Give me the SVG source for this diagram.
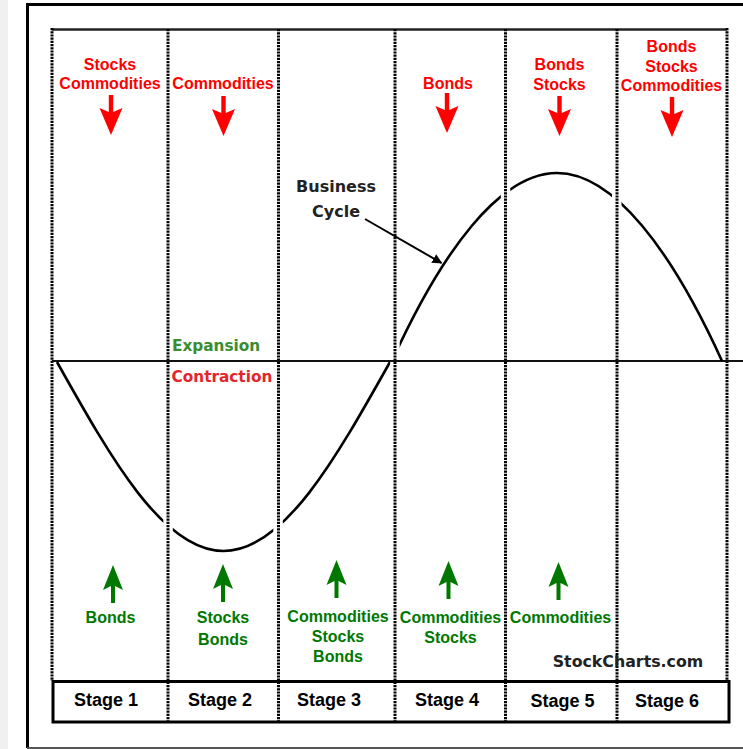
<svg xmlns="http://www.w3.org/2000/svg" width="743" height="749" viewBox="0 0 743 749">
<defs>
<style>
.red{font-family:"Liberation Sans",Arial,sans-serif;font-weight:bold;font-size:16px;fill:#ff0000;text-anchor:middle}
.grn{font-family:"Liberation Sans",Arial,sans-serif;font-weight:bold;font-size:16px;fill:#007800;text-anchor:middle}
.stage{font-family:"Liberation Sans",Arial,sans-serif;font-weight:bold;font-size:18px;fill:#000;text-anchor:middle}
.dv{font-family:"DejaVu Sans",Verdana,sans-serif;font-weight:bold}
.dot{stroke:#000;stroke-width:3;stroke-dasharray:2.2 1;fill:none}
.curve{stroke:#000;stroke-width:2.6;fill:none}
</style>
<path id="dnArrow" d="M-2.2,0 H2.2 V17 L11.5,13 L0,40 L-11.5,13 L-2.2,17 Z" fill="#ff0000"/>
<path id="upArrow" d="M0,0 L10,25 L2,21 V38 H-2 V21 L-10,25 Z" fill="#007800"/>
<marker id="ah" markerWidth="10" markerHeight="10" refX="9" refY="5" orient="auto" markerUnits="userSpaceOnUse" viewBox="0 0 10 10">
<path d="M0,0 L10,5 L0,10 Z" fill="#000"/>
</marker>
<mask id="gaps" maskUnits="userSpaceOnUse" x="0" y="0" width="743" height="749">
<rect x="0" y="0" width="743" height="749" fill="#fff"/>
<rect x="163.3" y="0" width="9.5" height="749" fill="#000"/>
<rect x="273.3" y="0" width="9.5" height="749" fill="#000"/>
<rect x="390.2" y="0" width="9.5" height="749" fill="#000"/>
<rect x="500.8" y="0" width="9.5" height="749" fill="#000"/>
<rect x="612" y="0" width="9.5" height="749" fill="#000"/>
</mask>
</defs>
<rect x="0" y="0" width="743" height="749" fill="#fff"/>
<rect x="0" y="0" width="8" height="749" fill="#f0f0f0"/>
<g id="frame">
<path d="M743,4.5 H27.5 V748" fill="none" stroke="#000" stroke-width="3"/>
<line x1="27" y1="748" x2="743" y2="748" stroke="#555" stroke-width="2"/>
</g>
<g id="grid">
<line x1="52" y1="29.5" x2="727" y2="29.5" stroke="#222" stroke-width="2.5"/>
<line class="dot" x1="52" y1="28" x2="52" y2="681"/>
<line class="dot" x1="168" y1="29" x2="168" y2="722"/>
<line class="dot" x1="278.5" y1="29" x2="278.5" y2="722"/>
<line class="dot" x1="395" y1="29" x2="395" y2="722"/>
<line class="dot" x1="505.5" y1="29" x2="505.5" y2="722"/>
<line class="dot" x1="617" y1="29" x2="617" y2="722"/>
<line class="dot" x1="727" y1="28" x2="727" y2="681"/>
<line x1="52" y1="361" x2="743" y2="361" stroke="#111" stroke-width="2"/>
</g>
<g id="connectors">
<path class="curve" mask="url(#gaps)" d="M57,362 C111.3,458.9 163.2,551 223.5,551 C283.8,551 335.7,458.9 390,362 M392,361 C442,251 500,173 557,173 C614,173 672,251 722,361"/>
<line x1="365" y1="219" x2="441.5" y2="263" stroke="#000" stroke-width="2" marker-end="url(#ah)"/>
</g>
<g id="business-cycle">
<text class="dv" x="336" y="192" font-size="16" fill="#222" text-anchor="middle">Business</text>
<text class="dv" x="336" y="217" font-size="16" fill="#222" text-anchor="middle">Cycle</text>
</g>
<g id="phase-labels">
<text class="dv" x="172" y="350.5" font-size="15.3" fill="#3a8d2e">Expansion</text>
<text class="dv" x="171.5" y="381.5" font-size="15.3" fill="#e3262b">Contraction</text>
</g>
<g id="stage1-top">
<text class="red" x="110" y="69.5">Stocks</text>
<text class="red" x="110" y="88.5">Commodities</text>
<use href="#dnArrow" x="111" y="95"/>
</g>
<g id="stage2-top">
<text class="red" x="223" y="88.5">Commodities</text>
<use href="#dnArrow" x="223.5" y="96"/>
</g>
<g id="stage4-top">
<text class="red" x="448" y="89">Bonds</text>
<use href="#dnArrow" x="447" y="93"/>
</g>
<g id="stage5-top">
<text class="red" x="559.5" y="69.5">Bonds</text>
<text class="red" x="559.5" y="90">Stocks</text>
<use href="#dnArrow" x="559.5" y="96"/>
</g>
<g id="stage6-top">
<text class="red" x="671.5" y="51.5">Bonds</text>
<text class="red" x="671.5" y="72">Stocks</text>
<text class="red" x="671.5" y="90.5">Commodities</text>
<use href="#dnArrow" x="672" y="97"/>
</g>
<g id="stage1-bottom">
<use href="#upArrow" x="113" y="565"/>
<text class="grn" x="110.5" y="623">Bonds</text>
</g>
<g id="stage2-bottom">
<use href="#upArrow" x="223" y="564"/>
<text class="grn" x="223" y="623">Stocks</text>
<text class="grn" x="223" y="645">Bonds</text>
</g>
<g id="stage3-bottom">
<use href="#upArrow" x="336.5" y="560"/>
<text class="grn" x="338" y="622">Commodities</text>
<text class="grn" x="338" y="642">Stocks</text>
<text class="grn" x="338" y="662">Bonds</text>
</g>
<g id="stage4-bottom">
<use href="#upArrow" x="448.5" y="561"/>
<text class="grn" x="450.5" y="623">Commodities</text>
<text class="grn" x="450.5" y="643">Stocks</text>
</g>
<g id="stage5-bottom">
<use href="#upArrow" x="558.5" y="562"/>
<text class="grn" x="560.5" y="623">Commodities</text>
</g>
<g id="credit">
<text class="dv" x="628" y="666.5" font-size="15.8" fill="#222" text-anchor="middle">StockCharts.com</text>
</g>
<g id="stage-bar">
<rect x="53" y="681.5" width="676" height="40.5" fill="none" stroke="#000" stroke-width="3"/>
<text class="stage" x="106" y="706">Stage 1</text>
<text class="stage" x="220" y="706">Stage 2</text>
<text class="stage" x="329" y="706">Stage 3</text>
<text class="stage" x="447" y="706">Stage 4</text>
<text class="stage" x="562.5" y="706.5">Stage 5</text>
<text class="stage" x="667" y="706.5">Stage 6</text>
</g>
</svg>
